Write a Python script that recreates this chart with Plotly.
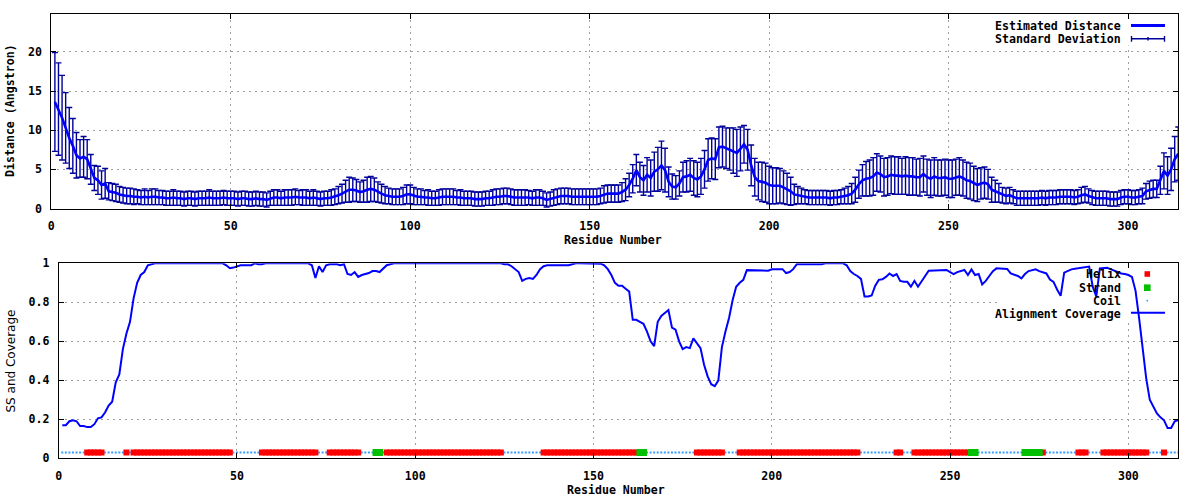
import plotly.graph_objects as go

# ---------------- data ----------------
residues = list(range(1, 315))

distance = [
    13.6, 12.7, 11.6, 10.3, 9.0, 8.0, 6.8, 6.4, 6.6, 6.3, 5.0, 3.9, 3.6, 3.0, 3.2, 2.2, 2.1, 2.0, 1.8, 1.7,
    1.6, 1.6, 1.5, 1.5, 1.4, 1.5, 1.4, 1.5, 1.5, 1.4, 1.4, 1.3, 1.3, 1.4, 1.3, 1.3, 1.2, 1.3, 1.3, 1.2,
    1.3, 1.3, 1.3, 1.4, 1.3, 1.3, 1.3, 1.4, 1.3, 1.3, 1.3, 1.2, 1.3, 1.3, 1.2, 1.2, 1.3, 1.2, 1.2, 1.1,
    1.3, 1.4, 1.4, 1.3, 1.4, 1.4, 1.4, 1.5, 1.4, 1.4, 1.4, 1.3, 1.4, 1.3, 1.2, 1.3, 1.3, 1.4, 1.5, 1.7,
    1.9, 2.2, 2.4, 2.4, 2.3, 2.1, 2.2, 2.4, 2.5, 2.4, 2.1, 1.9, 1.7, 1.6, 1.5, 1.5, 1.5, 1.6, 1.8, 1.8,
    1.6, 1.5, 1.5, 1.4, 1.4, 1.3, 1.3, 1.4, 1.5, 1.5, 1.5, 1.5, 1.4, 1.4, 1.3, 1.3, 1.3, 1.2, 1.2, 1.2,
    1.3, 1.3, 1.4, 1.5, 1.5, 1.6, 1.6, 1.5, 1.4, 1.4, 1.4, 1.4, 1.4, 1.3, 1.4, 1.4, 1.3, 1.1, 1.2, 1.4,
    1.5, 1.6, 1.6, 1.6, 1.5, 1.5, 1.5, 1.5, 1.5, 1.5, 1.5, 1.5, 1.6, 1.8, 1.9, 1.9, 1.9, 1.9, 2.1, 2.4,
    3.0, 3.8, 4.9, 4.0, 3.6, 4.3, 3.9, 4.7, 5.0, 5.5, 4.9, 3.4, 2.8, 2.7, 3.2, 4.0, 4.1, 4.3, 3.9, 3.7,
    4.1, 5.0, 6.2, 6.4, 6.3, 7.8, 7.9, 7.7, 7.6, 7.4, 7.1, 7.6, 8.2, 7.5, 5.5, 4.0, 3.5, 3.4, 3.3, 3.0,
    2.9, 2.9, 2.9, 2.7, 2.5, 2.2, 1.8, 1.7, 1.6, 1.5, 1.4, 1.4, 1.4, 1.4, 1.4, 1.4, 1.3, 1.4, 1.4, 1.5,
    1.6, 1.7, 1.9, 2.4, 3.1, 3.6, 3.8, 3.9, 4.1, 4.6, 4.4, 4.0, 4.1, 4.3, 4.2, 4.2, 4.1, 4.2, 4.1, 4.1,
    4.0, 4.0, 4.4, 4.0, 3.8, 4.1, 3.9, 3.9, 4.0, 3.8, 3.8, 4.0, 4.1, 3.9, 3.6, 3.5, 3.2, 3.0, 3.2, 3.3,
    3.1, 2.4, 2.2, 2.0, 1.7, 1.6, 1.7, 1.5, 1.3, 1.3, 1.3, 1.3, 1.3, 1.3, 1.3, 1.4, 1.3, 1.4, 1.4, 1.4,
    1.5, 1.5, 1.5, 1.5, 1.4, 1.5, 1.7, 1.8, 1.6, 1.4, 1.3, 1.3, 1.3, 1.3, 1.2, 1.2, 1.2, 1.4, 1.5, 1.5,
    1.4, 1.4, 1.5, 1.6, 2.2, 2.4, 2.5, 2.5, 3.6, 4.8, 4.2, 5.0, 6.3, 7.0,
]

std_dev = [
    6.3, 5.9, 5.4, 4.5, 3.9, 3.5, 2.9, 2.4, 2.6, 2.5, 1.9, 1.6, 1.8, 1.8, 1.9, 1.1, 1.1, 1.1, 1.0, 1.0,
    1.0, 1.0, 1.0, 0.9, 0.9, 1.0, 0.9, 1.0, 1.0, 0.9, 0.9, 0.9, 0.9, 1.0, 0.9, 0.9, 0.9, 0.9, 0.9, 0.9,
    0.9, 0.9, 0.9, 1.0, 0.9, 0.9, 0.9, 0.9, 0.9, 0.9, 0.9, 0.9, 0.9, 0.9, 0.9, 0.9, 0.9, 0.9, 0.9, 0.9,
    0.9, 1.0, 1.0, 0.9, 1.0, 1.0, 1.0, 1.0, 0.9, 1.0, 1.0, 0.9, 1.0, 0.9, 0.9, 0.9, 0.9, 1.0, 1.0, 1.1,
    1.2, 1.4, 1.6, 1.5, 1.4, 1.3, 1.4, 1.6, 1.6, 1.5, 1.3, 1.2, 1.1, 1.0, 1.0, 1.0, 1.0, 1.1, 1.2, 1.2,
    1.1, 1.0, 1.0, 0.9, 1.0, 0.9, 0.9, 1.0, 1.0, 1.0, 1.0, 1.0, 0.9, 1.0, 0.9, 0.9, 0.9, 0.9, 0.9, 0.9,
    0.9, 0.9, 1.0, 1.0, 1.0, 1.0, 1.0, 1.0, 1.0, 1.0, 1.0, 1.0, 0.9, 0.9, 1.0, 1.0, 0.9, 0.9, 0.9, 1.0,
    1.0, 1.0, 1.0, 1.0, 1.0, 1.0, 1.0, 1.0, 1.0, 1.0, 1.0, 1.0, 1.0, 1.1, 1.1, 1.1, 1.1, 1.1, 1.2, 1.4,
    1.5, 1.8, 2.0, 1.9, 1.9, 2.2, 2.3, 2.5, 2.8, 3.1, 2.8, 1.9, 1.6, 1.5, 1.6, 1.9, 2.0, 2.1, 2.2, 2.2,
    2.3, 2.4, 2.7, 2.6, 2.6, 2.6, 2.6, 2.6, 2.7, 2.9, 3.0, 2.8, 2.4, 2.6, 2.6, 2.4, 2.4, 2.5, 2.5, 2.4,
    2.3, 2.3, 2.2, 2.1, 2.0, 1.8, 1.3, 1.1, 1.0, 0.9, 0.9, 0.9, 0.9, 0.9, 0.9, 0.9, 0.9, 0.9, 0.9, 0.9,
    1.0, 1.1, 1.3, 1.6, 1.8, 2.0, 2.2, 2.3, 2.4, 2.4, 2.3, 2.4, 2.4, 2.4, 2.4, 2.4, 2.3, 2.4, 2.4, 2.4,
    2.3, 2.4, 2.3, 2.3, 2.4, 2.4, 2.3, 2.3, 2.3, 2.4, 2.4, 2.3, 2.4, 2.3, 2.3, 2.3, 2.2, 2.1, 2.0, 2.0,
    1.9, 1.6, 1.4, 1.2, 1.0, 1.0, 1.0, 0.9, 0.9, 0.9, 0.9, 0.9, 0.9, 0.9, 0.9, 0.9, 0.9, 0.9, 0.9, 0.9,
    0.9, 0.9, 0.9, 0.9, 0.9, 0.9, 1.0, 1.0, 0.9, 0.9, 0.9, 0.9, 0.9, 0.9, 0.9, 0.9, 0.9, 0.9, 0.9, 0.9,
    0.9, 0.9, 0.9, 1.0, 1.0, 1.1, 1.1, 1.1, 1.8, 2.3, 2.4, 2.7, 2.9, 3.4,
]

coverage = [
    0.17, 0.17, 0.19, 0.195, 0.19, 0.165, 0.165, 0.16, 0.16, 0.175,
    0.205, 0.21, 0.235, 0.27, 0.29, 0.39, 0.43, 0.56, 0.64, 0.70,
    0.82, 0.90, 0.94, 0.955, 0.99, 0.995, 1, 1, 1, 1,
    1, 1, 1, 1, 1, 1, 1, 1, 1, 1,
    1, 1, 1, 1, 1, 1, 0.99, 0.975, 0.978, 0.985,
    0.99, 0.99, 0.99, 0.99, 1, 0.995, 0.995, 1, 1, 1,
    1, 1, 1, 1, 1, 1, 1, 1, 1, 1,
    0.99, 0.925, 0.985, 0.955, 0.99, 0.995, 0.995, 0.995, 0.99, 0.995,
    0.945, 0.94, 0.955, 0.93, 0.94, 0.945, 0.95, 0.96, 0.96, 0.955,
    0.975, 0.99, 0.995, 1, 1, 1, 1, 1, 1, 1,
    1, 1, 1, 1, 1, 1, 1, 1, 1, 1,
    1, 1, 1, 1, 1, 1, 1, 1, 1, 1,
    1, 1, 1, 1, 0.995, 0.995, 0.985, 0.97, 0.955, 0.91,
    0.92, 0.925, 0.92, 0.94, 0.97, 0.985, 0.99, 0.99, 0.99, 0.99,
    0.99, 0.99, 0.99, 0.995, 1, 1, 1, 1, 1, 1,
    1, 0.998, 0.99, 0.97, 0.94, 0.9, 0.885, 0.885, 0.87, 0.855,
    0.71, 0.71, 0.70, 0.69, 0.65, 0.6, 0.575, 0.70, 0.73, 0.745,
    0.76, 0.67, 0.66, 0.6, 0.56, 0.57, 0.565, 0.615, 0.59, 0.565,
    0.48, 0.42, 0.38, 0.37, 0.40, 0.57, 0.65, 0.72, 0.81, 0.88,
    0.90, 0.915, 0.965, 0.965, 0.965, 0.965, 0.965, 0.965, 0.962, 0.97,
    0.97, 0.97, 0.97, 0.95, 0.955, 0.97, 0.995, 0.995, 0.995, 0.995,
    0.995, 0.995, 0.995, 0.995, 1, 1, 1, 1, 1, 1,
    0.99, 0.96, 0.945, 0.935, 0.92, 0.83, 0.83, 0.835, 0.885, 0.915,
    0.918, 0.93, 0.948, 0.935, 0.945, 0.91, 0.905, 0.905, 0.88, 0.91,
    0.88, 0.905, 0.935, 0.962, 0.963, 0.965, 0.966, 0.966, 0.966, 0.955,
    0.945, 0.955, 0.962, 0.966, 0.94, 0.969, 0.94, 0.945, 0.892, 0.91,
    0.935, 0.96, 0.974, 0.974, 0.972, 0.971, 0.948, 0.943, 0.935, 0.923,
    0.945, 0.96, 0.965, 0.969, 0.96, 0.952, 0.948, 0.917, 0.905, 0.866,
    0.833, 0.952, 0.962, 0.969, 0.972, 0.974, 0.978, 0.98, 0.983, 0.88,
    0.83, 0.974, 0.977, 0.977, 0.97, 0.962, 0.955, 0.948, 0.945, 0.94,
    0.93, 0.86, 0.72, 0.56, 0.41, 0.30, 0.265, 0.23, 0.21, 0.195,
    0.155, 0.155, 0.19, 0.196,
]

# secondary structure per residue, as runs (code, first residue, last residue)
ss_runs = [
    ("C", 1, 7), ("H", 8, 12), ("C", 13, 18), ("H", 19, 19), ("C", 20, 20), ("H", 21, 48),
    ("C", 49, 56), ("H", 57, 72), ("C", 73, 75), ("H", 76, 84), ("C", 85, 88), ("E", 89, 90),
    ("C", 91, 91), ("H", 92, 124), ("C", 125, 135), ("H", 136, 162), ("E", 163, 164),
    ("C", 165, 178), ("H", 179, 186), ("C", 187, 190), ("H", 191, 224), ("C", 225, 234),
    ("H", 235, 236), ("C", 237, 239), ("H", 240, 255), ("E", 256, 257), ("C", 258, 270),
    ("E", 271, 275), ("H", 276, 276), ("C", 277, 285), ("H", 286, 288), ("C", 289, 292),
    ("H", 293, 305), ("C", 306, 309), ("H", 310, 310), ("C", 311, 314),
]
ss_level = 0.03

x_ticks = [0, 50, 100, 150, 200, 250, 300]
dist_ticks = [0, 5, 10, 15, 20]
cov_ticks = [0, 0.2, 0.4, 0.6, 0.8, 1]

# ---------------- helpers ----------------
W, H = 1200, 500


def px(x):
    return x / W


def py(y):
    return 1 - y / H


ss_of = {}
for code, a, b in ss_runs:
    for r in range(a, b + 1):
        ss_of[r] = code
helix_x = [r for r in residues if ss_of[r] == "H"]
strand_x = [r for r in residues if ss_of[r] == "E"]
coil_x = [r for r in residues if ss_of[r] == "C"]

MONO = dict(family="DejaVu Sans Mono", size=11.6, color="black", weight="bold")
BLUE = "#0000ff"
NAVY = "#00009a"
RED = "#ff0000"
GREEN = "#00c000"
COIL = "#3a9cff"

fig = go.Figure()

# top: errorbars, then the distance line
fig.add_trace(go.Scatter(
    x=residues, y=distance, mode="markers", xaxis="x", yaxis="y",
    marker=dict(size=1, color=NAVY),
    error_y=dict(type="data", array=std_dev, visible=True, color=NAVY, thickness=1.4, width=3),
    showlegend=False, hoverinfo="skip"))
fig.add_trace(go.Scatter(
    x=residues, y=distance, mode="lines", xaxis="x", yaxis="y",
    line=dict(color=BLUE, width=2.6), showlegend=False))

# bottom: secondary structure and coverage
fig.add_trace(go.Scatter(
    x=coil_x, y=[ss_level] * len(coil_x), mode="markers", xaxis="x2", yaxis="y2",
    marker=dict(size=2, color=COIL, symbol="square"), showlegend=False))
fig.add_trace(go.Scatter(
    x=helix_x, y=[ss_level] * len(helix_x), mode="markers", xaxis="x2", yaxis="y2",
    marker=dict(size=6, color=RED, symbol="square", line=dict(width=0)), showlegend=False))
fig.add_trace(go.Scatter(
    x=strand_x, y=[ss_level] * len(strand_x), mode="markers", xaxis="x2", yaxis="y2",
    marker=dict(size=7, color=GREEN, symbol="square", line=dict(width=0)), showlegend=False))
fig.add_trace(go.Scatter(
    x=residues, y=coverage, mode="lines", xaxis="x2", yaxis="y2",
    line=dict(color=BLUE, width=2), showlegend=False))

axis_common = dict(
    showline=True, linecolor="black", linewidth=1, mirror="ticks",
    ticks="inside", ticklen=5, tickcolor="black", tickwidth=1,
    showgrid=True, gridcolor="#a0a0a0", griddash="2px,4px", gridwidth=1,
    zeroline=False, tickfont=MONO, automargin=False,
)

# pixel geometry of the two panels (in the reference picture)
TOP_L, TOP_R, TOP_T, TOP_B = 51.3, 1178.3, 14.3, 208.5
BOT_L, BOT_R, BOT_T, BOT_B = 58.7, 1178.3, 263.3, 458.3

fig.update_layout(
    width=W, height=H,
    margin=dict(l=0, r=0, t=0, b=0, pad=0),
    paper_bgcolor="white", plot_bgcolor="white",
    showlegend=False,
    xaxis=dict(axis_common, domain=[px(TOP_L), px(TOP_R)], anchor="y",
               range=[0, 314], tickvals=x_ticks, ticklabelstandoff=7),
    yaxis=dict(axis_common, domain=[py(TOP_B), py(TOP_T)], anchor="x",
               range=[0, 24.8], tickvals=dist_ticks, ticklabelstandoff=6),
    xaxis2=dict(axis_common, domain=[px(BOT_L), px(BOT_R)], anchor="y2",
                range=[0, 314], tickvals=x_ticks, ticklabelstandoff=7),
    yaxis2=dict(axis_common, domain=[py(BOT_B), py(BOT_T)], anchor="x2",
                range=[0, 1], tickvals=cov_ticks, ticklabelstandoff=6),
)

shapes = []
# opaque key boxes that hide the grid under the keys (between grid and data)
shapes.append(dict(type="rect", xref="x", yref="y",
                   x0=264, x1=314, y0=20.8, y1=24.8,
                   fillcolor="white", line=dict(width=0), layer="between"))
shapes.append(dict(type="rect", xref="x2", yref="y2",
                   x0=264, x1=314, y0=0.71, y1=1,
                   fillcolor="white", line=dict(width=0), layer="between"))


def hline(x0, x1, y, color, width):
    return dict(type="line", xref="paper", yref="paper", x0=px(x0), x1=px(x1),
                y0=py(y), y1=py(y), line=dict(color=color, width=width))


def vline(x, y0, y1, color, width):
    return dict(type="line", xref="paper", yref="paper", x0=px(x), x1=px(x),
                y0=py(y0), y1=py(y1), line=dict(color=color, width=width))


def box(xc, yc, half, color):
    return dict(type="rect", xref="paper", yref="paper",
                x0=px(xc - half), x1=px(xc + half), y0=py(yc + half), y1=py(yc - half),
                fillcolor=color, line=dict(width=0))


# top key samples
shapes.append(hline(1131, 1165, 25.5, BLUE, 3))
shapes.append(hline(1131, 1165, 38.7, NAVY, 1.4))
shapes.append(vline(1131.5, 36, 41.7, NAVY, 1.4))
shapes.append(vline(1164.5, 36, 41.7, NAVY, 1.4))
shapes.append(vline(1148, 37, 40.5, NAVY, 1.4))
# bottom key samples
shapes.append(box(1147.3, 274, 2.8, RED))
shapes.append(box(1147.3, 287.7, 3.3, GREEN))
shapes.append(box(1147.3, 300.7, 0.8, COIL))
shapes.append(hline(1131, 1165, 312.7, BLUE, 2))

annotations = []


def label(text, x, y, xanchor="center", angle=0, font=MONO):
    annotations.append(dict(text=text, x=px(x), y=py(y), xref="paper", yref="paper",
                            xanchor=xanchor, yanchor="middle", showarrow=False,
                            textangle=angle, font=font))


label("Distance (Angstron)", 10, 111, angle=-90)
label("Residue Number", 613, 240)
label("SS and Coverage", 10.5, 361, angle=-90,
      font=dict(family="DejaVu Sans", size=12, color="black"))
label("Residue Number", 615.5, 490)

label("Estimated Distance", 1123, 26, xanchor="right")
label("Standard Deviation", 1123, 39, xanchor="right")
label("Helix", 1123, 274, xanchor="right")
label("Strand", 1123, 287.7, xanchor="right")
label("Coil", 1123, 300.7, xanchor="right")
label("Alignment Coverage", 1123, 313.5, xanchor="right")

fig.update_layout(shapes=shapes, annotations=annotations)

# the page body's default 8px margin would shift the picture; remove it
fig.write_html("out.html",
               config={"displayModeBar": False, "staticPlot": True},
               post_script="document.body.style.margin='0px';document.body.style.overflow='hidden';")
